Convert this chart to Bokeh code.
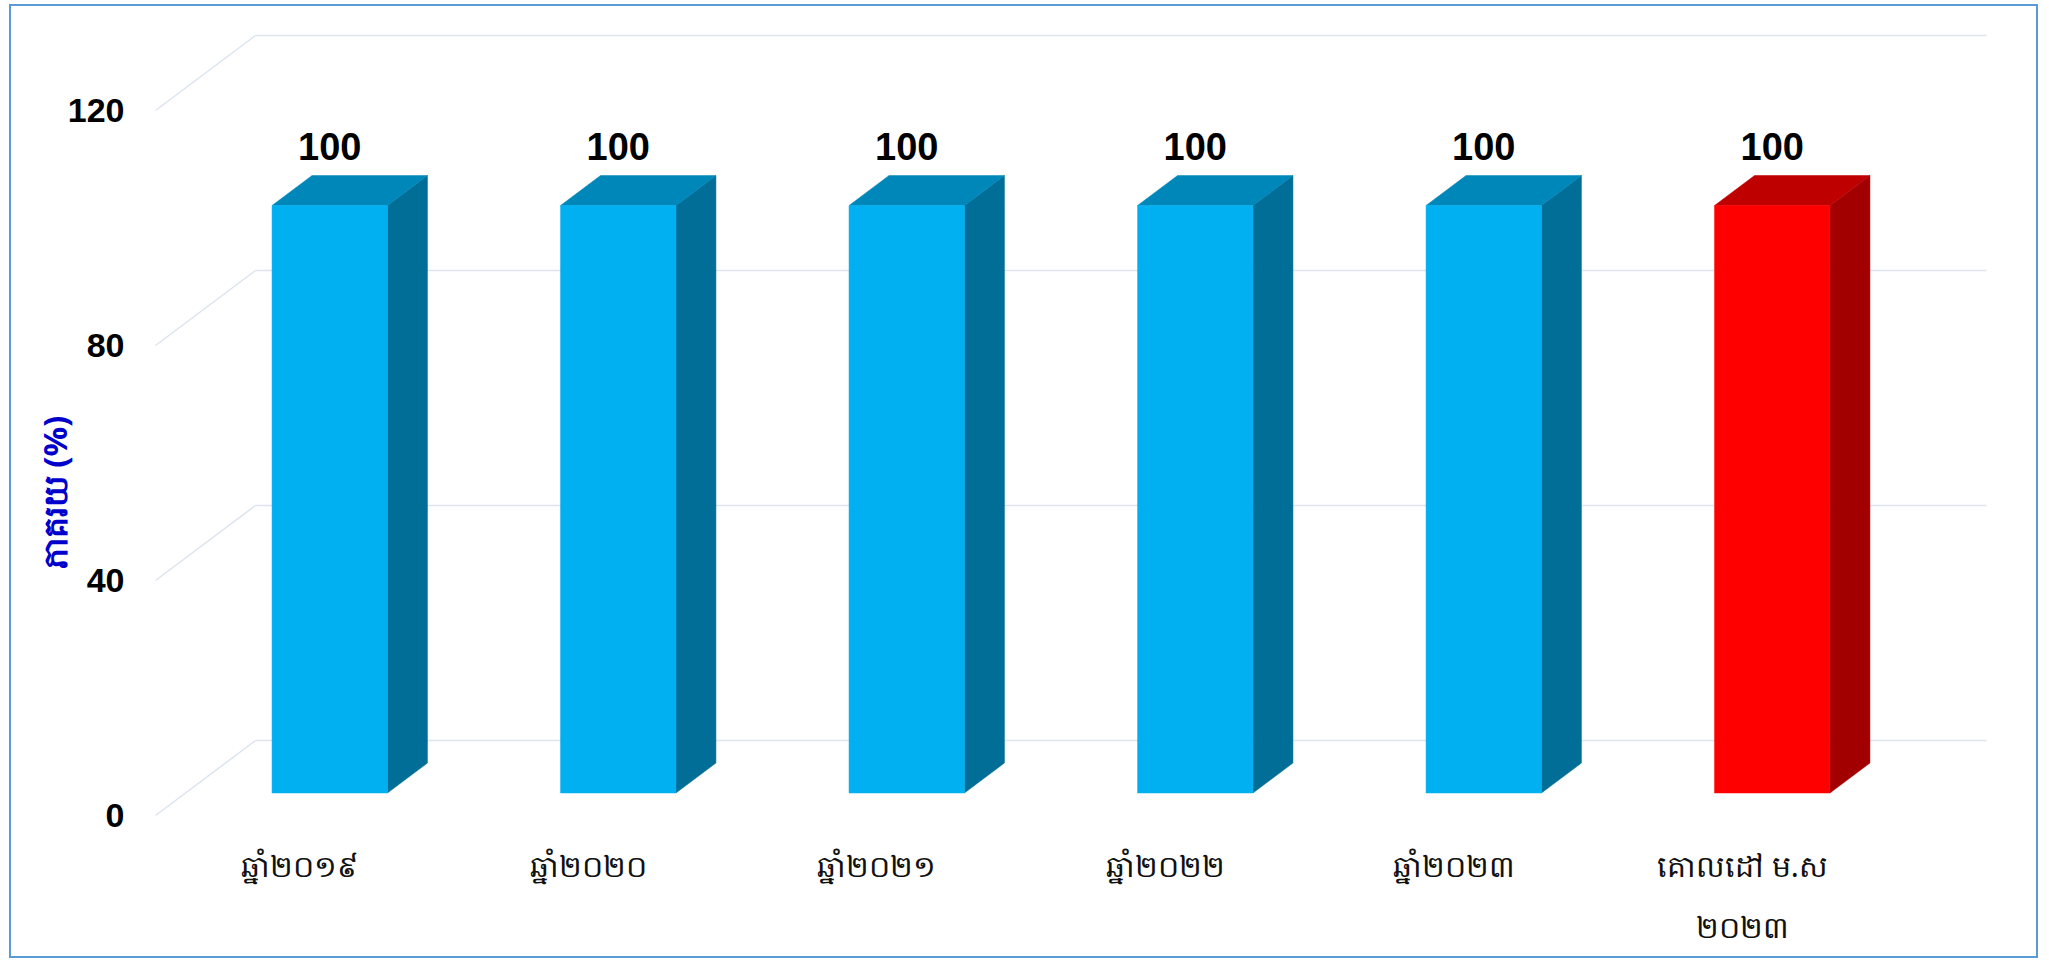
from bokeh.plotting import figure
from bokeh.models import Range1d, FixedTicker, ColumnDataSource
from bokeh.core.properties import value
from bokeh.embed import file_html
from bokeh.resources import INLINE

# ---- data ----
categories = ["ឆ្នាំ២០១៩", "ឆ្នាំ២០២០", "ឆ្នាំ២០២១", "ឆ្នាំ២០២២", "ឆ្នាំ២០២៣", "គោលដៅ ម.ស\n២០២៣"]
values = [100, 100, 100, 100, 100, 100]
value_labels = ["100", "100", "100", "100", "100", "100"]
y_ticks = [0, 40, 80, 120]
y_title = "ភាគរយ (%)"

# ---- styles ----
front_colors = ["#00B0F0"] * 5 + ["#FF0000"]
top_colors = ["#0087B9"] * 5 + ["#BF0000"]
side_colors = ["#006E97"] * 5 + ["#A20000"]
grid_color = "#DCE4EE"

# pixel layout of the 3-D box (page coords) -> data ranges
PX0, PXU = 155.0, 288.5     # front-plane x of category 0 edge, px per category
PY0, PYU = 815.0, 5.875     # front-plane y of value 0, px per unit
DEPTH_PX, DEPTH_PY = 100.0, 75.0
DX = DEPTH_PX / PXU
DY = DEPTH_PY / PYU
F_L, F_R, F_T, F_B = 140.0, 2030.0, 26.0, 958.0
OX, OY = 11, 6   # page position of the figure content

x_range = Range1d((F_L - PX0) / PXU, (F_R - PX0) / PXU)
y_range = Range1d((PY0 - F_B) / PYU, (PY0 - F_T) / PYU)

W, H = 2029, 954
p = figure(width=W, height=H, x_range=x_range, y_range=y_range,
           output_backend="svg", toolbar_location=None, x_axis_type=None,
           min_border_left=int(F_L - OX), min_border_right=int(OX + W - F_R),
           min_border_top=int(F_T - OY), min_border_bottom=int(OY + H - F_B),
           styles={"border": "2px solid #5B9BD5", "margin-top": "4px", "margin-left": "9px"})
p.outline_line_color = None
p.grid.visible = False
p.background_fill_color = "white"
p.border_fill_color = "white"

# gridlines: side wall diagonals + back wall horizontals
n = len(categories)
p.segment(x0=[0.0] * len(y_ticks), y0=y_ticks, x1=[DX] * len(y_ticks),
          y1=[t + DY for t in y_ticks], line_color=grid_color, line_width=1.5)
p.segment(x0=[DX] * len(y_ticks), y0=[t + DY for t in y_ticks],
          x1=[n + DX] * len(y_ticks), y1=[t + DY for t in y_ticks],
          line_color=grid_color, line_width=1.5)

# 3-D bars
d0, d1 = 0.3, 0.7
b0, b1 = 0.3, 0.7
fx, fy, sx, sy, tx, ty = [], [], [], [], [], []
for i, v in enumerate(values):
    xl, xr = i + b0, i + b1
    fx.append([xl + d0 * DX, xr + d0 * DX, xr + d0 * DX, xl + d0 * DX])
    fy.append([d0 * DY, d0 * DY, v + d0 * DY, v + d0 * DY])
    sx.append([xr + d0 * DX, xr + d1 * DX, xr + d1 * DX, xr + d0 * DX])
    sy.append([d0 * DY, d1 * DY, v + d1 * DY, v + d0 * DY])
    tx.append([xl + d0 * DX, xr + d0 * DX, xr + d1 * DX, xl + d1 * DX])
    ty.append([v + d0 * DY, v + d0 * DY, v + d1 * DY, v + d1 * DY])

p.patches(xs=sx, ys=sy, fill_color=side_colors, line_color=side_colors, line_width=0.5)
p.patches(xs=tx, ys=ty, fill_color=top_colors, line_color=top_colors, line_width=0.5)
p.patches(xs=fx, ys=fy, fill_color=front_colors, line_color=front_colors, line_width=0.5)

# value labels
lab = ColumnDataSource(dict(x=[i + 0.5 + d0 * DX for i in range(n)],
                            y=[v + d1 * DY + 29.0 / PYU for v in values], t=value_labels))
p.text(x="x", y="y", text="t", source=lab, text_align="center",
       text_baseline="alphabetic",
       text_font=value("Liberation Sans"), text_font_style="bold",
       text_font_size="38px", text_color="black")

# category labels
cat = ColumnDataSource(dict(x=[i + 0.5 for i in range(n)],
                            y=[(PY0 - 844) / PYU] * n, t=categories))
p.text(x="x", y="y", text="t", source=cat, text_align="center",
       text_baseline="top", text_line_height=1.5,
       text_font=value("Noto Sans"), text_font_size="30px", text_color="#111111")

# y axis
ax = p.yaxis[0]
ax.ticker = FixedTicker(ticks=y_ticks)
ax.axis_line_color = None
ax.major_tick_line_color = None
ax.minor_tick_line_color = None
ax.major_tick_out = 0
ax.major_tick_in = 0
ax.major_label_standoff = 16
ax.major_label_text_font = "Liberation Sans"
ax.major_label_text_font_style = "bold"
ax.major_label_text_font_size = "34px"
ax.major_label_text_color = "black"
ax.axis_label = y_title
ax.axis_label_text_font = "Noto Sans"
ax.axis_label_text_font_style = "bold"
ax.axis_label_text_font_size = "33px"
ax.axis_label_text_color = "#0000CC"
ax.axis_label_standoff = -12

open("out.html", "w").write(file_html(p, INLINE))
